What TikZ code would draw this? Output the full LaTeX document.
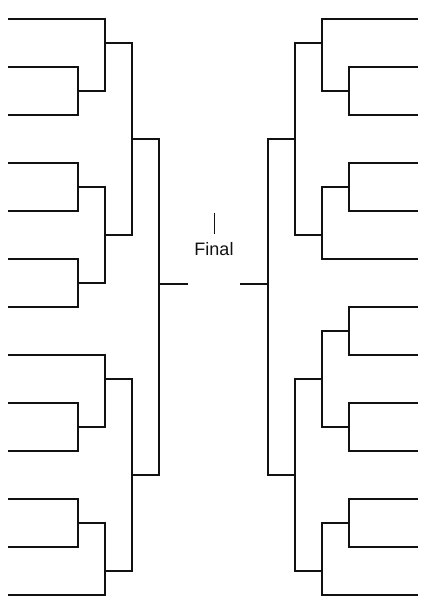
\documentclass[tikz,border=0pt]{standalone}
\usepackage{fontspec}
\setmainfont{Liberation Sans}
\usepackage{tikz}
\usepackage{xcolor}
\definecolor{darktext}{HTML}{111111}

\begin{document}
\begin{tikzpicture}[x=1pt, y=-1pt, line width=1.6pt, line cap=rect, darktext]
            \useasboundingbox (0,0) rectangle (421,611);
            % left half
            \foreach \a/\b in {67/115, 163/211, 259/307, 403/451, 499/547}
                \draw (9,\a) -- (78,\a) -- (78,\b) -- (9,\b) (78,{(\a+\b)/2}) -- (105,{(\a+\b)/2});
            \foreach \y in {19, 355, 595}
                \draw (9,\y) -- (105,\y);
            \foreach \a/\b/\m in {19/91/43, 187/283/235, 355/427/379, 523/595/571}
                \draw (105,\a) -- (105,\b) (105,\m) -- (132,\m);
            \foreach \a/\b/\m in {43/235/139, 379/571/475}
                \draw (132,\a) -- (132,\b) (132,\m) -- (159,\m);
            \draw (159,139) -- (159,475) (159,284) -- (187,284);
            % right half
            \foreach \a/\b in {67/115, 163/211, 307/355, 403/451, 499/547}
                \draw (417,\a) -- (349,\a) -- (349,\b) -- (417,\b) (349,{(\a+\b)/2}) -- (322,{(\a+\b)/2});
            \foreach \y in {19, 259, 595}
                \draw (417,\y) -- (322,\y);
            \foreach \a/\b/\m in {19/91/43, 187/259/235, 331/427/379, 523/595/571}
                \draw (322,\a) -- (322,\b) (322,\m) -- (295,\m);
            \foreach \a/\b/\m in {43/235/139, 379/571/475}
                \draw (295,\a) -- (295,\b) (295,\m) -- (268,\m);
            \draw (268,139) -- (268,475) (268,284) -- (241,284);
            % final
            \node[anchor=base, inner sep=0pt, font=\fontsize{18}{20}\selectfont] (final) at (214,255) {Final};
            \draw[line width=0.8pt, line cap=butt] (214,213) -- (214,234);
        \end{tikzpicture}
\end{document}
